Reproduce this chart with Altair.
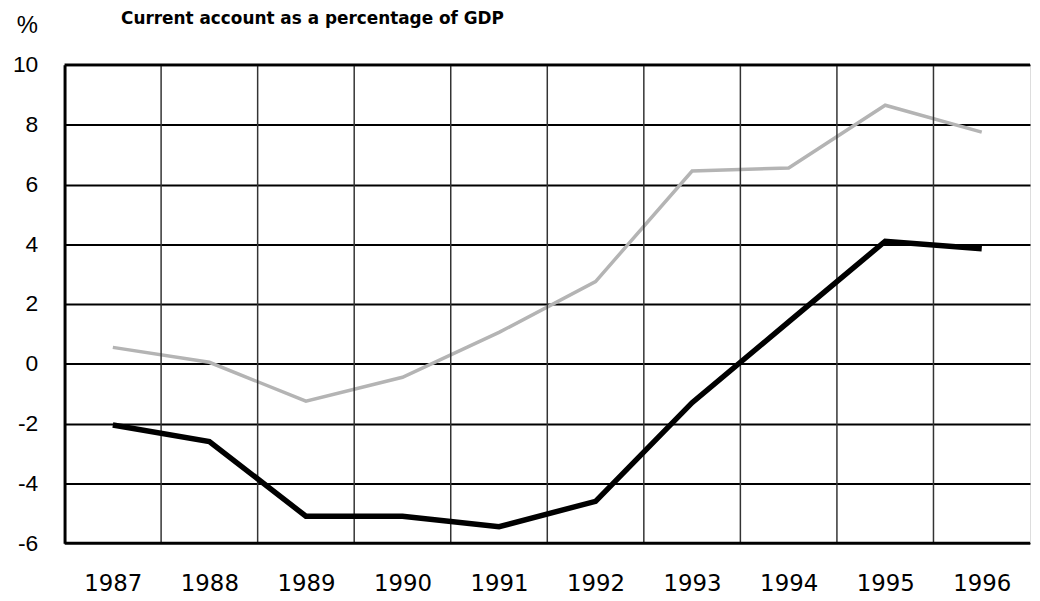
import altair as alt
import pandas as pd

years = [1987, 1988, 1989, 1990, 1991, 1992, 1993, 1994, 1995, 1996]
gray_series = [0.55, 0.05, -1.25, -0.45, 1.05, 2.75, 6.45, 6.55, 8.65, 7.75]
black_series = [-2.05, -2.6, -5.1, -5.1, -5.45, -4.6, -1.3, 1.4, 4.1, 3.85]
y_ticks = [-6, -4, -2, 0, 2, 4, 6, 8, 10]
title_text = "Current account as a percentage of GDP"
unit_text = "%"

df = pd.DataFrame({
    "year": years * 2,
    "value": gray_series + black_series,
    "series": ["gray"] * len(years) + ["black"] * len(years),
})
bounds = pd.DataFrame({"year": [y + 0.5 for y in years[:-1]]})

W, H = 973, 482
xscale = alt.Scale(domain=[years[0] - 0.5, years[-1] + 0.5], nice=False, zero=False)
yscale = alt.Scale(domain=[y_ticks[0], y_ticks[-1]], nice=False, zero=False)

FONT = "Liberation Sans"

x_axis = alt.Axis(
    values=years, format="d", grid=False, ticks=False, tickSize=0, domain=False,
    labelFont="DejaVu Sans", labelFontSize=23, labelColor="#000", labelPadding=30, title=None,
    labelFlush=False)
y_axis = alt.Axis(
    values=y_ticks, grid=True, gridColor="#000", gridWidth=2, gridOpacity=1,
    ticks=False, tickSize=0, domain=True, domainColor="#000", domainWidth=3,
    labelFont=FONT, labelFontSize=23, labelColor="#000", labelPadding=27,
    labelExpr="toString(datum.value)",
    title=unit_text, titleAngle=0, titleFont=FONT, titleFontSize=24, titleFontWeight="normal",
    titleX=-38, titleY=-40, titleAlign="center", titleBaseline="middle", titleColor="#000")

X = alt.X("year:Q", scale=xscale, axis=x_axis)
Y = alt.Y("value:Q", scale=yscale, axis=y_axis)

vrules = alt.Chart(bounds).mark_rule(color="#333", strokeWidth=1.5).encode(x=X)

gray_line = alt.Chart(df).transform_filter(alt.datum.series == "gray").mark_line(
    color="#b4b4b4", strokeWidth=3.5).encode(x=X, y=Y)
black_line = alt.Chart(df).transform_filter(alt.datum.series == "black").mark_line(
    color="#000", strokeWidth=5.5).encode(x=X, y=Y)

title = alt.Chart(alt.Data(values=[{}])).mark_text(
    text=title_text, font="DejaVu Sans", fontSize=17, fontWeight="bold", align="left",
    baseline="alphabetic", color="#000").encode(x=alt.value(57), y=alt.value(-41))

top_border = alt.Chart(alt.Data(values=[{}])).mark_rule(color="#000", strokeWidth=3).encode(
    x=alt.value(0), x2=alt.value(W), y=alt.value(0))
bottom_border = alt.Chart(alt.Data(values=[{}])).mark_rule(color="#000", strokeWidth=3).encode(
    x=alt.value(0), x2=alt.value(W), y=alt.value(H))

chart = alt.layer(gray_line, vrules, black_line, top_border, bottom_border, title).properties(
    width=W, height=H,
    autosize=alt.AutoSizeParams(type="none"),
    padding={"left": 57, "top": 55, "right": 2, "bottom": 56},
).configure_view(stroke=None).configure(background="white")

chart.save("out.html", embed_options={"renderer": "svg", "actions": False})
